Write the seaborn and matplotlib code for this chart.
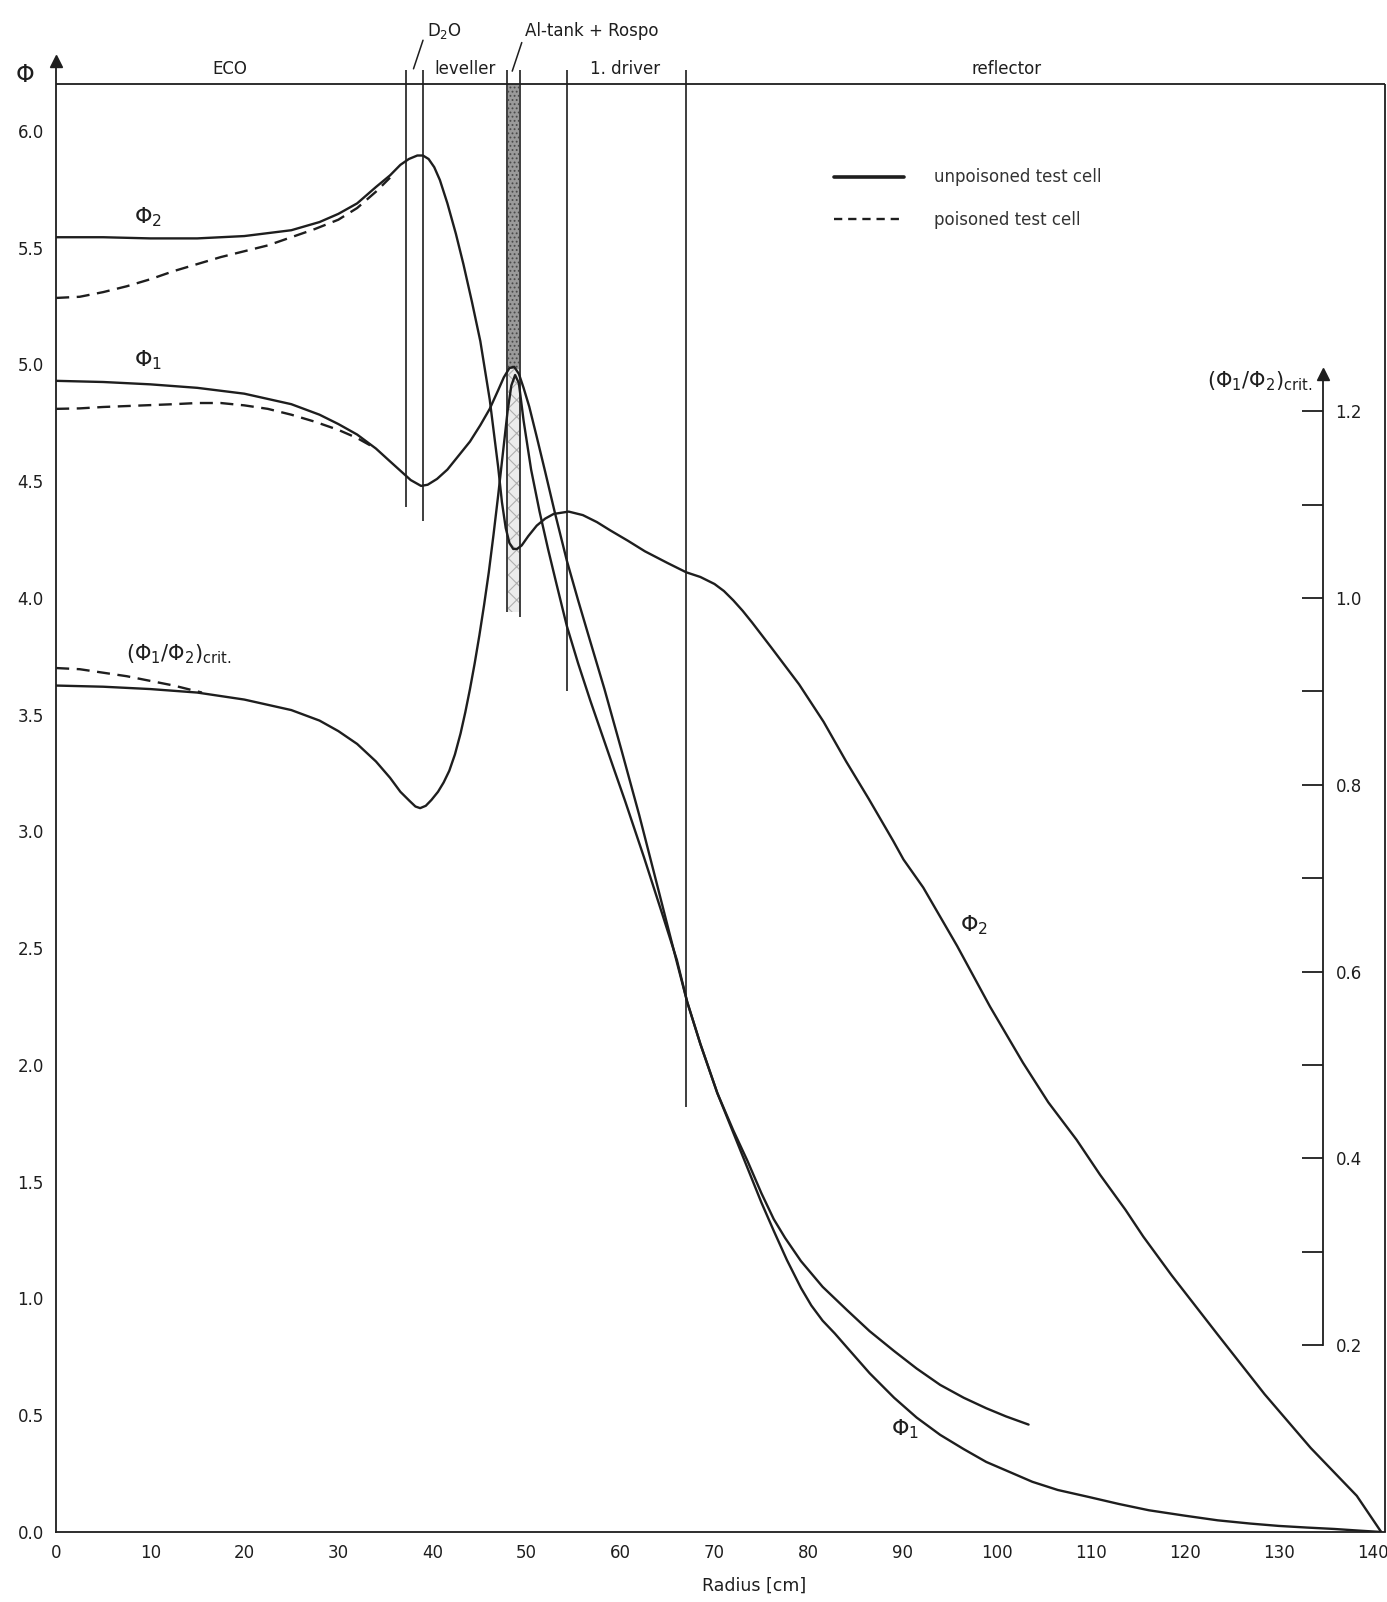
import numpy as np
import pandas as pd
import matplotlib
matplotlib.use("Agg")
import matplotlib.pyplot as plt
import seaborn as sns
from matplotlib.lines import Line2D

# ---------------- data ----------------
# Phi2 (thermal flux), unpoisoned test cell
r_phi2 = [0, 5, 10, 15, 20, 25, 28, 30, 32, 34, 35.5, 36.6, 37.5, 38.4, 39.0, 39.6,
          40.2, 40.8, 41.6, 42.5, 43.3, 44.2, 45.1, 46.1, 47.0, 47.4, 47.8, 48.2, 48.6,
          49.0, 49.5, 50.2, 51.1, 52.0, 52.9, 54.5, 56.0, 57.5, 58.9, 60.8, 62.6, 65.0,
          67.0, 68.5, 70.0, 71.0, 72.0, 73.0, 74.0, 76.0, 77.5, 79.0, 81.6, 84.0, 86.4,
          89.0, 90.1, 92.2, 95.8, 99.3, 102.8, 105.5, 108.5, 111.0, 113.7, 115.6, 118.6,
          123.5, 128.5, 133.4, 138.3, 140.9]
phi2 = [5.545, 5.545, 5.54, 5.54, 5.55, 5.575, 5.61, 5.645, 5.69, 5.76, 5.81, 5.855,
        5.88, 5.895, 5.895, 5.88, 5.845, 5.79, 5.69, 5.56, 5.43, 5.27, 5.10, 4.85, 4.56,
        4.41, 4.30, 4.235, 4.21, 4.21, 4.225, 4.265, 4.31, 4.34, 4.36, 4.37, 4.355,
        4.325, 4.29, 4.245, 4.20, 4.15, 4.11, 4.09, 4.06, 4.03, 3.99, 3.945, 3.895,
        3.79, 3.71, 3.63, 3.47, 3.30, 3.14, 2.96, 2.88, 2.76, 2.51, 2.25, 2.01, 1.84,
        1.68, 1.53, 1.38, 1.265, 1.10, 0.846, 0.59, 0.36, 0.155, 0.0]

# Phi2, poisoned test cell
r_phi2_p = [0, 2.5, 5, 7.5, 10, 12.5, 15, 17.5, 20, 22.5, 25, 27.5, 30, 32, 34, 35.5]
phi2_p = [5.285, 5.29, 5.31, 5.335, 5.365, 5.40, 5.43, 5.46, 5.485, 5.51, 5.545,
          5.58, 5.62, 5.67, 5.74, 5.80]

# Phi1 (fast flux), unpoisoned test cell
r_phi1 = [0, 5, 10, 15, 20, 25, 28, 30, 32, 34, 35.5, 36.6, 37.7, 38.8, 39.5, 40.5,
          41.6, 42.8, 44.0, 45.1, 46.1, 47.0, 47.6, 48.2, 48.7, 49.2, 49.7, 50.3, 51.1,
          52.0, 53.0, 54.3, 55.5, 56.6, 58.3, 60.1, 62.0, 64.1, 66.0, 67.1, 68.5, 70.3,
          72.0, 73.5, 75.0, 76.3, 77.7, 79.2, 80.3, 81.5, 82.8, 84.1, 86.5, 89.1, 91.5,
          94.0, 96.5, 98.9, 101.5, 103.8, 106.5, 109.8, 113.0, 116.2, 120.0, 123.5,
          127.0, 130.0, 133.0, 135.9, 138.5, 140.9]
phi1 = [4.93, 4.925, 4.915, 4.90, 4.875, 4.83, 4.785, 4.745, 4.70, 4.64, 4.585, 4.545,
        4.505, 4.48, 4.485, 4.51, 4.55, 4.61, 4.67, 4.74, 4.81, 4.89, 4.945, 4.985,
        4.99, 4.96, 4.90, 4.82, 4.69, 4.54, 4.37, 4.16, 3.99, 3.84, 3.61, 3.35, 3.07,
        2.74, 2.44, 2.27, 2.09, 1.88, 1.71, 1.56, 1.41, 1.29, 1.165, 1.045, 0.97, 0.905,
        0.85, 0.79, 0.68, 0.575, 0.49, 0.416, 0.355, 0.30, 0.255, 0.215, 0.18, 0.15,
        0.12, 0.093, 0.07, 0.05, 0.036, 0.026, 0.019, 0.013, 0.006, 0.0]

# Phi1, poisoned test cell
r_phi1_p = [0, 2.5, 5, 7.5, 10, 12.5, 15, 17.5, 20, 22.5, 25, 27.5, 30, 32, 34]
phi1_p = [4.81, 4.812, 4.818, 4.822, 4.826, 4.83, 4.835, 4.835, 4.825, 4.81, 4.785,
          4.755, 4.72, 4.685, 4.64]

# (Phi1/Phi2)crit, plotted on the Phi scale (right scale = Phi / 4)
r_ratio = [0, 5, 10, 15, 20, 25, 28, 30, 32, 34, 35.5, 36.6, 37.6, 38.2, 38.7, 39.3,
           39.9, 40.6, 41.2, 41.8, 42.4, 43.0, 43.5, 44.0, 44.5, 45.0, 45.5, 46.0,
           46.5, 47.0, 47.5, 48.0, 48.4, 48.8, 49.2, 49.7, 50.5, 51.4, 52.3, 53.2,
           54.3, 55.5, 56.8, 58.0, 59.2, 60.5, 62.5, 64.5, 66.0, 67.1, 68.5, 70.3,
           72.0, 73.5, 75.0, 76.3, 77.5, 79.2, 81.5, 84.1, 86.5, 89.1, 91.5, 94.0,
           96.5, 98.9, 101.0, 103.4]
ratio = [3.625, 3.62, 3.61, 3.595, 3.565, 3.52, 3.475, 3.43, 3.375, 3.30, 3.23, 3.17,
         3.13, 3.107, 3.10, 3.11, 3.135, 3.17, 3.21, 3.26, 3.33, 3.42, 3.51, 3.61, 3.72,
         3.84, 3.97, 4.11, 4.27, 4.44, 4.62, 4.80, 4.91, 4.955, 4.92, 4.76, 4.55, 4.37,
         4.21, 4.06, 3.88, 3.72, 3.56, 3.42, 3.28, 3.13, 2.89, 2.64, 2.45, 2.27, 2.09,
         1.88, 1.72, 1.59, 1.45, 1.34, 1.26, 1.16, 1.05, 0.95, 0.86, 0.775, 0.70, 0.63,
         0.575, 0.53, 0.495, 0.46]

r_ratio_p = [0, 2.5, 5, 7.5, 10, 12.5, 15.5]
ratio_p = [3.70, 3.695, 3.68, 3.665, 3.645, 3.625, 3.595]

# axes ticks
x_ticks = [0, 10, 20, 30, 40, 50, 60, 70, 80, 90, 100, 110, 120, 130, 140]
y_ticks = [0.0, 0.5, 1.0, 1.5, 2.0, 2.5, 3.0, 3.5, 4.0, 4.5, 5.0, 5.5, 6.0]
ratio_ticks = [0.2, 0.3, 0.4, 0.5, 0.6, 0.7, 0.8, 0.9, 1.0, 1.1, 1.2]
ratio_tick_labels = ["0.2", "", "0.4", "", "0.6", "", "0.8", "", "1.0", "", "1.2"]

# zone boundaries (radius) and how far down they are drawn
bound_x = [37.2, 39.0, 47.9, 49.3, 54.3, 67.0]
bound_bottom = [4.39, 4.33, 3.94, 3.92, 3.60, 1.82]
zone_names = ["ECO", "leveller", "1. driver", "reflector"]
zone_label_x = [18.5, 43.5, 60.5, 101.1]

# ---------------- style ----------------
sns.set_theme(style="white")
plt.rcParams["font.family"] = ["DejaVu Sans"]
plt.rcParams["mathtext.fontset"] = "dejavusans"
plt.rcParams["hatch.linewidth"] = 0.8

ink = "#1e1e1e"
lw = 1.7
X_MAX, Y_MAX = 141.4, 6.55
TOP = 6.2          # frame top line
RIGHT = 141.3      # frame right line
R_AXIS_X = 134.7   # position of the (Phi1/Phi2)crit axis

fig = plt.figure(figsize=(13.87, 16.02), dpi=100)
ax = fig.add_axes([0.04052, 0.0437, 0.9587, 0.9547])
ax.set_xlim(0, X_MAX)
ax.set_ylim(0, Y_MAX)


def curve(x, y, dashed=False):
    df = pd.DataFrame({"r": x, "v": y})
    kws = dict(color=ink, lw=lw, solid_joinstyle="round", solid_capstyle="round")
    if dashed:
        kws["linestyle"] = (0, (5.5, 3.2))
    sns.lineplot(data=df, x="r", y="v", ax=ax, estimator=None, sort=False, **kws)


curve(r_phi2, phi2)
curve(r_phi2_p, phi2_p, dashed=True)
curve(r_phi1, phi1)
curve(r_phi1_p, phi1_p, dashed=True)
curve(r_ratio, ratio)
curve(r_ratio_p, ratio_p, dashed=True)

# Al-tank + Rospo hatched zone
ax.fill_betweenx([4.98, TOP], bound_x[2] + 0.12, bound_x[3] - 0.12,
                 facecolor="#9a9a9a", edgecolor="#4a4a4a", hatch="....", lw=0)
ax.fill_betweenx([bound_bottom[2], 4.98], bound_x[2] + 0.12, bound_x[3] - 0.12,
                 facecolor="#ececec", edgecolor="#b0b0b0", hatch="xx", lw=0)

# zone boundary lines
ax.vlines(bound_x, bound_bottom, 6.26, color=ink, lw=1.2)

# frame
ax.hlines(TOP, 0, RIGHT, color=ink, lw=1.3)
ax.vlines(RIGHT, 0, TOP, color=ink, lw=1.3)
for s in ["top", "right"]:
    ax.spines[s].set_visible(False)
for s in ["left", "bottom"]:
    ax.spines[s].set_color(ink)
    ax.spines[s].set_linewidth(1.3)
ax.spines["left"].set_bounds(0, 6.3)
ax.spines["bottom"].set_bounds(0, RIGHT)
ax.plot([0], [6.3], marker="^", ms=9, color=ink, clip_on=False)

ax.set_xticks(x_ticks)
ax.set_xticklabels([str(v) for v in x_ticks])
ax.set_yticks(y_ticks)
ax.set_yticklabels([f"{v:.1f}" for v in y_ticks])
ax.tick_params(axis="both", direction="in", length=14, width=1.3, colors=ink,
               labelsize=12, pad=9)
ax.set_xlabel("Radius [cm]", fontsize=12.5, color=ink)
ax.xaxis.set_label_coords(74.2 / X_MAX, -0.029)
ax.set_ylabel("")

# secondary (Phi1/Phi2)crit axis
sec = ax.secondary_yaxis(R_AXIS_X / X_MAX, functions=(lambda y: y / 4.0, lambda y: y * 4.0))
sec.set_yticks(ratio_ticks)
sec.set_yticklabels(ratio_tick_labels)
sec.tick_params(direction="in", length=15, width=1.3, colors=ink, labelsize=12, pad=9)
sec.spines["right"].set_bounds(0.2, 1.24)
sec.spines["right"].set_color(ink)
sec.spines["right"].set_linewidth(1.3)
ax.plot([R_AXIS_X], [4 * 1.24], marker="^", ms=8, color=ink, clip_on=False)
ax.text(133.6, 4.93, r"$(\Phi_1/\Phi_2)_{\rm crit.}$", ha="right", va="center",
        fontsize=15, color=ink)

# axis symbol
ax.text(-3.3, 6.24, r"$\Phi$", ha="center", va="center", fontsize=17, color=ink,
        clip_on=False)

# zone labels
for name, zx in zip(zone_names, zone_label_x):
    ax.text(zx, 6.225, name, ha="center", va="bottom", fontsize=12, color=ink)
ax.text(41.3, 6.43, r"D$_2$O", ha="center", va="center", fontsize=12, color=ink)
ax.text(56.9, 6.43, "Al-tank + Rospo", ha="center", va="center", fontsize=12, color=ink)
ax.annotate("", xy=(37.9, 6.255), xytext=(39.1, 6.40),
            arrowprops=dict(arrowstyle="-", color=ink, lw=1.1))
ax.annotate("", xy=(48.4, 6.245), xytext=(49.6, 6.39),
            arrowprops=dict(arrowstyle="-", color=ink, lw=1.1))

# curve labels
ax.text(9.8, 5.63, r"$\Phi_2$", ha="center", va="center", fontsize=16, color=ink)
ax.text(9.8, 5.02, r"$\Phi_1$", ha="center", va="center", fontsize=16, color=ink)
ax.text(13.0, 3.76, r"$(\Phi_1/\Phi_2)_{\rm crit.}$", ha="center", va="center",
        fontsize=15, color=ink)
ax.text(97.6, 2.60, r"$\Phi_2$", ha="center", va="center", fontsize=16, color=ink)
ax.text(90.3, 0.44, r"$\Phi_1$", ha="center", va="center", fontsize=16, color=ink)

# legend
handles = [Line2D([], [], color=ink, lw=2.6),
           Line2D([], [], color=ink, lw=1.7, linestyle=(0, (3.5, 2.5)))]
leg = ax.legend(handles, ["unpoisoned test cell", "poisoned test cell"],
                frameon=False, loc="upper left", bbox_to_anchor=(82.7 / X_MAX, 5.84 / Y_MAX),
                handlelength=4.2, handletextpad=1.8, labelspacing=1.45, fontsize=12,
                borderpad=0, borderaxespad=0)
for t in leg.get_texts():
    t.set_color("#333333")

fig.savefig("out.png", dpi=100, facecolor="white")
